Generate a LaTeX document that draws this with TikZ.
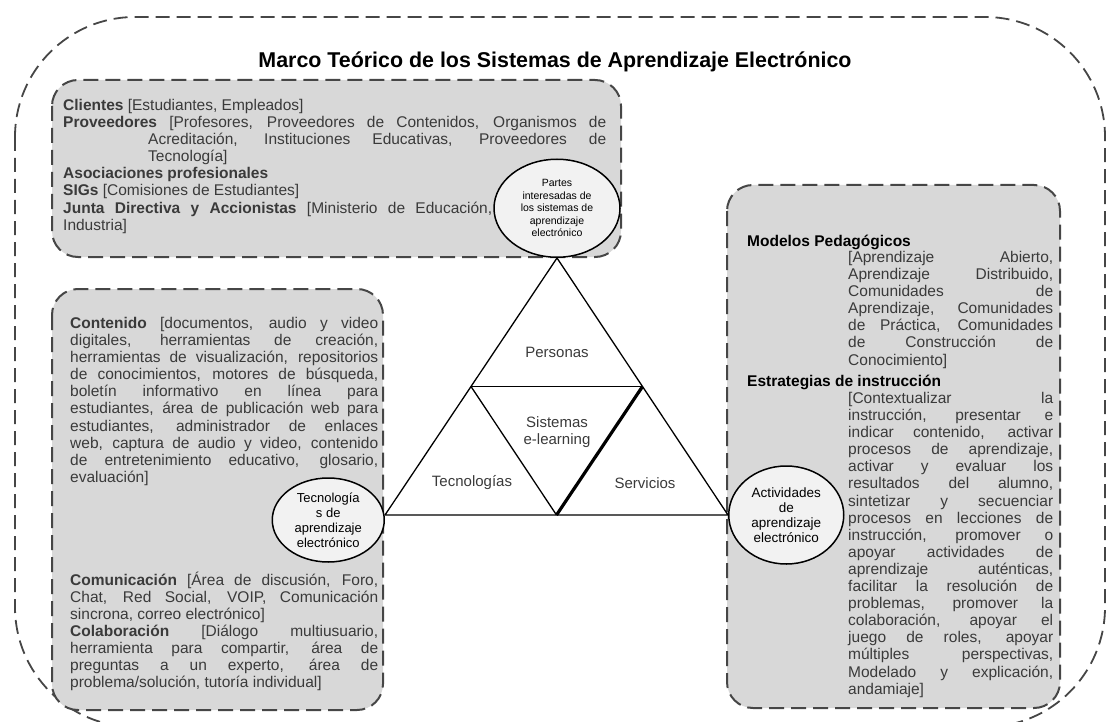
\documentclass[tikz,border=0pt]{standalone}
\usepackage{fontspec}
\setmainfont{Liberation Sans}
\usetikzlibrary{positioning,shapes.geometric}
\definecolor{ink}{RGB}{58,58,58}
\definecolor{dashgray}{RGB}{70,70,70}
\definecolor{panelgray}{RGB}{216,216,216}
\definecolor{hubfill}{RGB}{242,242,242}
\newcommand{\bodyfont}{\fontsize{15.5}{17.1}\selectfont}
\tolerance=10000 \hbadness=10000 \hyphenpenalty=10000 \exhyphenpenalty=10000

\begin{document}
\begin{tikzpicture}[x=1pt, y=-1pt, line join=round,
    frame/.style={draw=dashgray, line width=1.8pt, dash pattern=on 14pt off 7pt, rounded corners=120pt},
    panel/.style={draw=dashgray, fill=panelgray, line width=2pt, dash pattern=on 15pt off 7pt, rounded corners=26pt},
    hub/.style={ellipse, draw=black, line width=1.5pt, fill=hubfill, inner sep=0pt},
    hubtext/.style={align=center, inner sep=0pt, text=black},
    body/.style={anchor=north west, inner sep=0pt, align=justify, text=ink, font=\bodyfont},
    head/.style={anchor=base west, inner sep=0pt, text=black, font=\bodyfont\bfseries},
    part/.style={text=ink, font=\fontsize{15}{17}\selectfont},
    edge/.style={line width=1.3pt},
    spine/.style={line width=3.2pt}]
  \useasboundingbox (0,0) rectangle (1113,722);
  % marco exterior y titulo
  \draw[frame] (15,17) rectangle (1105,727);
  \node[font=\bfseries\fontsize{21.4}{25}\selectfont] (title) at (555,62) {Marco Teórico de los Sistemas de Aprendizaje Electrónico};
  % paneles grises
  \draw[panel] (52,80) rectangle (621,257);
  \draw[panel] (52,289) rectangle (383,710);
  \draw[panel] (727,185) rectangle (1060,708);
  % triangulo
  \coordinate (apex) at (557,258);
  \coordinate (bl) at (385,515);
  \coordinate (br) at (728,515);
  \coordinate (ml) at (471,386.5);
  \coordinate (mr) at (642.5,386.5);
  \coordinate (bm) at (556.5,515);
  \draw[edge] (apex) -- (bl) -- (br) -- cycle;
  \draw[edge] (ml) -- (mr);
  \draw[edge] (ml) -- (bm);
  \draw[spine] (mr) -- (bm);
  \node[part] (personas) at (557,352) {Personas};
  \node[part, align=center] (core) at (557,432) {Sistemas\\e-learning};
  \node[part] (tecno) at (472,483) {Tecnologías};
  \node[part] (serv) at (645,483) {Servicios};
  % circulos
  \node[hub, above=0pt of apex, minimum width=126pt, minimum height=98pt] (stake) {};
  \node[hubtext, font=\fontsize{10.5}{12.5}\selectfont] (staketext) at (stake) {Partes\\interesadas de\\los sistemas de\\aprendizaje\\electrónico};
  \node[hub, left=0pt of bl, yshift=-5pt, minimum width=112pt, minimum height=84pt] (tools) {};
  \node[hubtext, font=\fontsize{13}{15}\selectfont] (toolslbl) at (tools) {Tecnología\\s de\\aprendizaje\\electrónico};
  \node[hub, right=0pt of br, minimum width=115pt, minimum height=98pt] (tasks) {};
  \node[hubtext, font=\fontsize{13.5}{15}\selectfont] (taskslbl) at (tasks) {Actividades\\de\\aprendizaje\\electrónico};
  % textos de los paneles
  \node[body, text width=543pt] (staketxt) at (63,99) {\textbf{Clientes} [Estudiantes, Empleados]\par
    \hangindent=85pt\hangafter=1 \textbf{Proveedores} [Profesores, Proveedores de Contenidos, Organismos de\linebreak Acreditación, Instituciones Educativas, Proveedores de\linebreak Tecnología]\par
    \textbf{Asociaciones profesionales}\par
    \textbf{SIGs} [Comisiones de Estudiantes]\par
    \parshape=1 0pt 429pt \textbf{Junta Directiva y Accionistas} [Ministerio de Educación,\linebreak Industria]\par};
  \node[body, text width=308pt] (toolstxt) at (70,317) {\textbf{Contenido} [documentos, audio y video\linebreak digitales, herramientas de creación,\linebreak herramientas de visualización, repositorios\linebreak de conocimientos, motores de búsqueda,\linebreak boletín informativo en línea para\linebreak estudiantes, área de publicación web para\linebreak estudiantes, administrador de enlaces\linebreak web, captura de audio y video, contenido\linebreak de entretenimiento educativo, glosario,\linebreak evaluación]};
  \node[body, text width=308pt] (commtxt) at (70,571.5) {\textbf{Comunicación} [Área de discusión, Foro,\linebreak Chat, Red Social, VOIP, Comunicación\linebreak sincrona, correo electrónico]\par
    \textbf{Colaboración} [Diálogo multiusuario,\linebreak herramienta para compartir, área de\linebreak preguntas a un experto, área de\linebreak problema/solución, tutoría individual]};
  \node[head] (modelhead) at (747,246.5) {Modelos Pedagógicos};
  \node[body, text width=205pt] (modeltxt) at (848,251) {[Aprendizaje Abierto,\linebreak Aprendizaje Distribuido,\linebreak Comunidades de\linebreak Aprendizaje, Comunidades\linebreak de Práctica, Comunidades\linebreak de Construcción de\linebreak Conocimiento]};
  \node[head] (strathead) at (747,386.5) {Estrategias de instrucción};
  \node[body, text width=205pt] (strattxt) at (848,392) {[Contextualizar la\linebreak instrucción, presentar e\linebreak indicar contenido, activar\linebreak procesos de aprendizaje,\linebreak activar y evaluar los\linebreak resultados del alumno,\linebreak sintetizar y secuenciar\linebreak procesos en lecciones de\linebreak instrucción, promover o\linebreak apoyar actividades de\linebreak aprendizaje auténticas,\linebreak facilitar la resolución de\linebreak problemas, promover la\linebreak colaboración, apoyar el\linebreak juego de roles, apoyar\linebreak múltiples perspectivas,\linebreak Modelado y explicación,\linebreak andamiaje]};
\end{tikzpicture}
\end{document}
